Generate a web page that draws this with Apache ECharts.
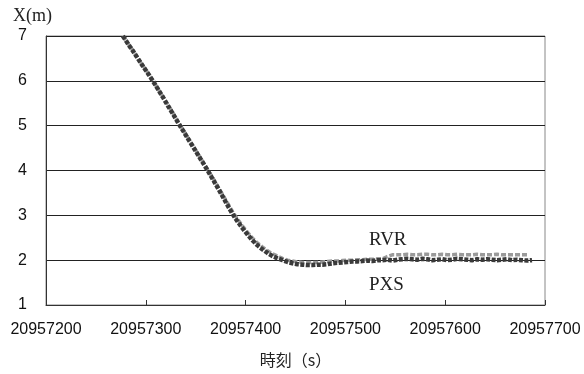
<!DOCTYPE html>
<html><head><meta charset="utf-8">
<script src="https://cdn.jsdelivr.net/npm/echarts@6/dist/echarts.min.js"></script>
<style>html,body{margin:0;padding:0;background:#fff}#c{width:584px;height:374px}</style>
</head><body><div id="c"></div>
<script>
var times = [20957277,20957282,20957287,20957292,20957297,20957302,20957307,20957312,20957317,20957322,
20957327,20957332,20957337,20957342,20957347,20957352,20957357,20957362,20957367,20957372,
20957377,20957382,20957387,20957392,20957397,20957402,20957407,20957412,20957417,20957422,
20957427,20957432,20957437,20957442,20957447,20957452,20957457,20957462,20957467,20957472,
20957477,20957482,20957487,20957492,20957497,20957502,20957507,20957512,20957517,20957522,
20957527,20957532,20957537,20957542,20957547,20957552,20957557,20957562,20957567,20957572,
20957577,20957582,20957587,20957592,20957597,20957602,20957607,20957612,20957617,20957622,
20957627,20957632,20957637,20957642,20957647,20957652,20957657,20957662,20957667,20957672,
20957677,20957682,20957687];
var pxs = [7.0,6.83,6.67,6.5,6.33,6.17,6.0,5.82,5.64,5.45,
5.27,5.08,4.9,4.72,4.54,4.36,4.18,4.0,3.81,3.62,
3.42,3.22,3.03,2.86,2.71,2.57,2.44,2.33,2.24,2.16,
2.09,2.04,2.0,1.96,1.93,1.91,1.9,1.89,1.89,1.9,
1.90,1.91,1.93,1.94,1.95,1.96,1.97,1.97,1.98,1.99,
1.98,2.0,2.0,2.01,1.99,2.01,2.02,2.03,2.02,2.01,
2.03,2.02,2.0,2.01,2.02,2.0,2.01,2.03,2.02,2.01,
2.0,2.02,2.01,2.02,2.01,2.0,2.01,2.02,2.0,2.01,
2.0,1.99,2.0];
var rvr = [7.0,6.84,6.68,6.51,6.34,6.18,6.01,5.83,5.65,5.47,
5.29,5.1,4.92,4.74,4.56,4.38,4.2,4.02,3.84,3.65,
3.46,3.27,3.08,2.91,2.76,2.62,2.49,2.38,2.29,2.21,
2.14,2.09,2.04,2.0,1.98,1.96,1.95,1.95,1.95,1.95,
1.96,1.97,1.98,1.98,1.99,2.0,2.0,2.01,2.01,2.02,
2.02,2.03,2.03,2.08,2.12,2.12,2.12,2.13,2.12,2.12,
2.13,2.13,2.12,2.12,2.13,2.12,2.12,2.13,2.12,2.12,
2.12,2.13,2.12,2.12,2.12,2.13,2.12,2.12,2.12,2.12,
2.12,2.12];
var xTicks = ['20957200','20957300','20957400','20957500','20957600','20957700'];
var yTicks = ['1','2','3','4','5','6','7'];

function pairs(t, v){ var a=[]; for(var i=0;i<v.length;i++) a.push([t[i], v[i]]); return a; }

var chart = echarts.init(document.getElementById('c'), null, {renderer:'canvas'});
chart.setOption({
  animation:false,
  grid:{left:46,right:39,top:36,bottom:69,show:true,borderColor:'#888',borderWidth:1},
  xAxis:{type:'value',min:20957200,max:20957700,interval:100,
    name:'時刻（s）',nameLocation:'middle',nameGap:47,
    nameTextStyle:{fontFamily:'Noto Sans CJK JP',fontSize:16,color:'#222'},
    axisLine:{show:true,lineStyle:{color:'#333',width:1}},
    axisTick:{show:true,inside:true,length:5,lineStyle:{color:'#333'}},
    axisLabel:{margin:17,fontFamily:'Liberation Sans',fontSize:16,color:'#111',
      formatter:function(v){return xTicks[Math.round((v-20957200)/100)]||'';}},
    splitLine:{show:false}},
  yAxis:{type:'value',min:1,max:7,interval:1,
    axisLine:{show:true,lineStyle:{color:'#333',width:1}},
    axisTick:{show:false},
    axisLabel:{margin:19,fontFamily:'Liberation Sans',fontSize:16,color:'#111',
      formatter:function(v){return yTicks[Math.round(v-1)]||'';}},
    splitLine:{show:true,lineStyle:{color:'#222',width:1}}},
  graphic:[
    {type:'text',left:13,top:7,style:{text:'X(m)',fontFamily:'Liberation Serif',fontSize:18,fill:'#222'}},
    {type:'text',left:369,top:231,style:{text:'RVR',fontFamily:'Liberation Serif',fontSize:19,fill:'#222'}},
    {type:'text',left:369,top:276,style:{text:'PXS',fontFamily:'Liberation Serif',fontSize:19,fill:'#222'}}
  ],
  series:[
    {type:'line',name:'RVR',data:pairs(times,rvr),showSymbol:false,smooth:false,
     lineStyle:{color:'#9a9a9a',width:3.5,type:[5,2]},z:2},
    {type:'line',name:'PXS',data:pairs(times,pxs),showSymbol:false,smooth:false,
     lineStyle:{color:'#3a3a3a',width:4.5,type:[4,1.5]},z:3}
  ]
});
</script></body></html>
